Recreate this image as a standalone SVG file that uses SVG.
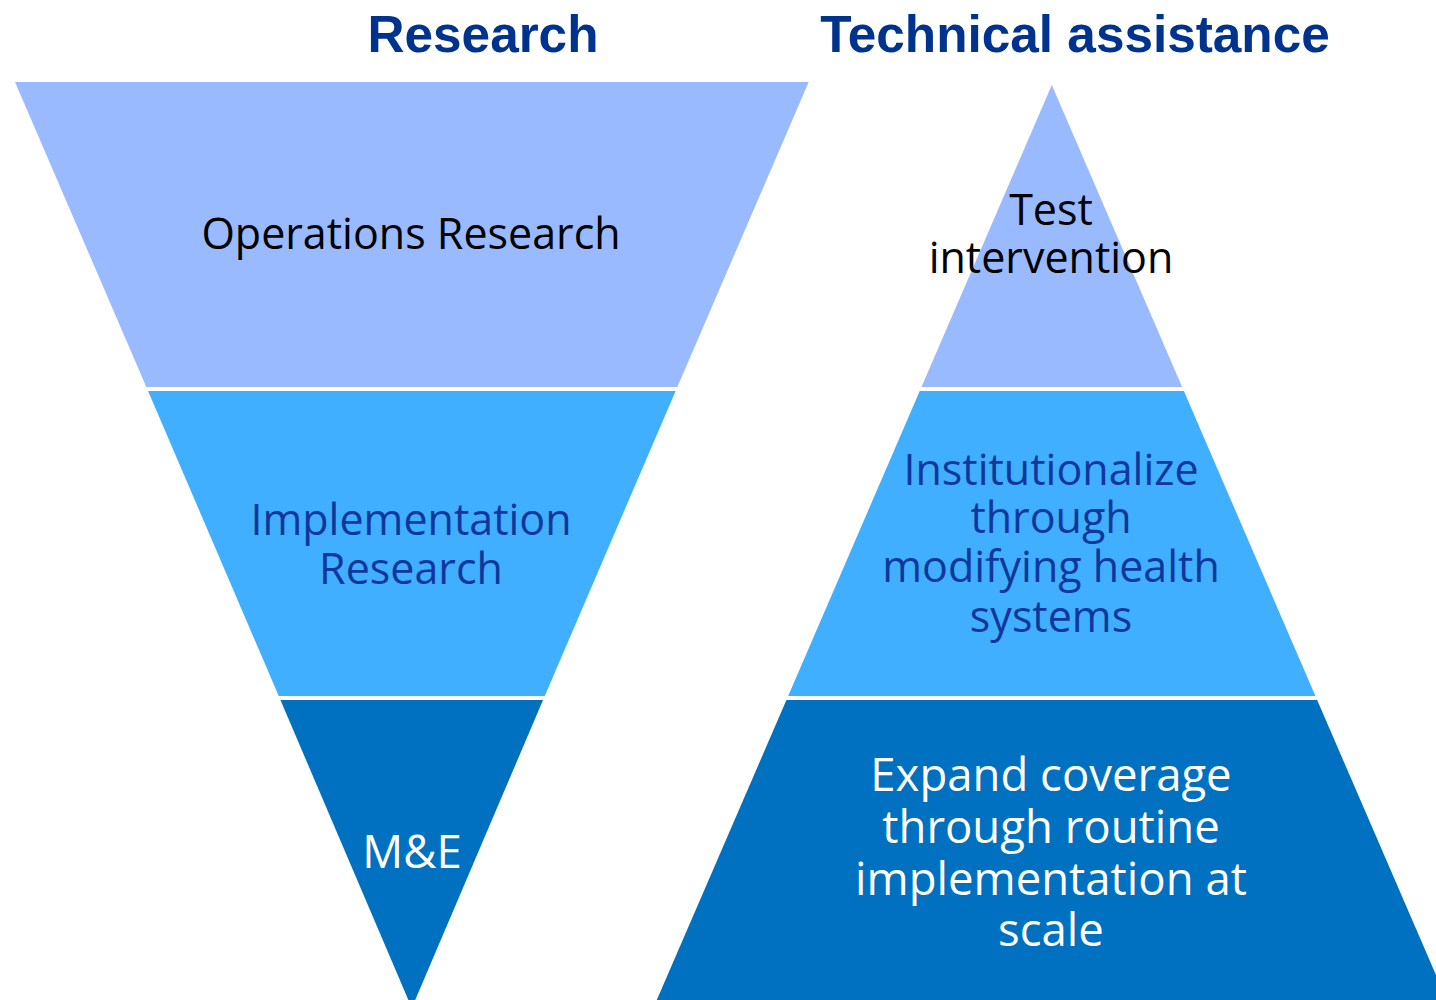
<svg xmlns="http://www.w3.org/2000/svg" width="1436" height="1000" viewBox="0 0 1436 1000">
<style>
.l1{fill:#99BAFF}
.l2{fill:#40AFFF}
.l3{fill:#0070C0}
.sep{stroke:#fff;stroke-width:4}
.title{font-family:"Liberation Sans",Arial,sans-serif;font-weight:bold;font-size:51.3px;fill:#00338E;text-anchor:middle}
.lbl{font-family:"Open Sans","Noto Sans",sans-serif;font-size:43px;text-anchor:middle}
.big{font-size:45.5px}
.blk{fill:#000}
.nav{fill:#10379A}
.wht{fill:#fff}
</style>
<rect width="1436" height="1000" fill="#fff"/>
<g id="title-research"><text class="title" x="483" y="52">Research</text></g>
<g id="title-ta"><text class="title" x="1075" y="52">Technical assistance</text></g>
<g id="research-operations">
<polygon class="l1" points="15,82 808.7,82 676.5,389 147.2,389"/>
<text class="lbl blk" x="411" y="249">Operations Research</text>
</g>
<g id="research-implementation">
<polygon class="l2" points="147.2,389 676.5,389 543.9,698 279.6,698"/>
<text class="lbl nav" x="411" y="535">Implementation</text>
<text class="lbl nav" x="411" y="584">Research</text>
</g>
<g id="research-me">
<polygon class="l3" points="279.6,698 543.9,698 411.8,1008"/>
<text class="lbl big wht" x="412" y="868">M&amp;E</text>
</g>
<g id="ta-test">
<polygon class="l1" points="1051.8,85 1183,389 920.6,389"/>
<text class="lbl blk" x="1051" y="225">Test</text>
<text class="lbl blk" x="1051" y="273">intervention</text>
</g>
<g id="ta-institutionalize">
<polygon class="l2" points="920.6,389 1183,389 1316.3,698 787.3,698"/>
<text class="lbl nav" x="1051" y="485">Institutionalize</text>
<text class="lbl nav" x="1051" y="533">through</text>
<text class="lbl nav" x="1051" y="582">modifying health</text>
<text class="lbl nav" x="1051" y="632">systems</text>
</g>
<g id="ta-expand">
<polygon class="l3" points="787.3,698 1316.3,698 1452,1012 651.6,1012"/>
<text class="lbl big wht" x="1051" y="791">Expand coverage</text>
<text class="lbl big wht" x="1051" y="843">through routine</text>
<text class="lbl big wht" x="1051" y="895">implementation at</text>
<text class="lbl big wht" x="1051" y="946">scale</text>
</g>
<g id="separators">
<line class="sep" x1="0" y1="389" x2="1436" y2="389"/>
<line class="sep" x1="0" y1="698" x2="1436" y2="698"/>
</g>
<g id="connectors"></g>
</svg>
